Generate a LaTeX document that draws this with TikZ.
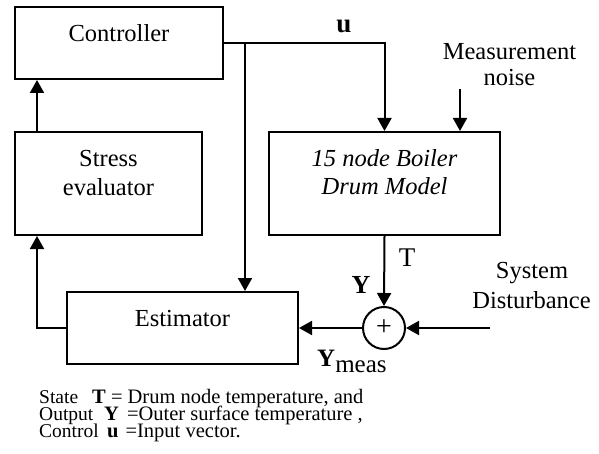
\documentclass[tikz,border=0pt]{standalone}
\usepackage{fontspec}
\setmainfont{Liberation Serif}
\usetikzlibrary{arrows.meta}
\begin{document}
\begin{tikzpicture}[x=1pt,y=-1pt,
  blk/.style={draw,line width=2pt,inner sep=0pt},
  arr/.style={line width=2pt,-{Triangle[length=13pt,width=14pt]}},
  lbl/.style={anchor=base,inner sep=0pt,font=\fontsize{24.5}{29}\selectfont},
  captxt/.style={anchor=base west,inner sep=0pt,font=\fontsize{20.5}{17}\selectfont},
  capkey/.style={anchor=base west,inner sep=0pt,font=\fontsize{19.5}{17}\selectfont}]
\useasboundingbox (0,0) rectangle (599,454);
% boxes
\node[blk,minimum width=208pt,minimum height=72pt] (ctrl) at (119,43) {};
\node[blk,minimum width=187pt,minimum height=103pt] (stress) at (108.5,183.5) {};
\node[blk,minimum width=231pt,minimum height=103pt] (boiler) at (384.5,183.5) {};
\node[blk,minimum width=231pt,minimum height=72pt] (est) at (182.5,328) {};
\node[draw,line width=2pt,circle,minimum size=42pt,inner sep=0pt] (sum) at (384,328) {};
\node[inner sep=0pt,font=\fontsize{28}{28}\selectfont\mdseries] (plus) at (384,327.5) {+};
% box texts
\node[lbl] (tctrl) at (119,41.7) {Controller};
\node[lbl] (tstr1) at (108.5,167) {Stress};
\node[lbl] (tstr2) at (108.5,196) {evaluator};
\node[lbl] (tboil1) at (384.5,166.7) {\itshape 15 node Boiler};
\node[lbl] (tboil2) at (384.5,195) {\itshape Drum Model};
\node[lbl] (test) at (182.5,326.7) {Estimator};
\node[lbl] (tmeas1) at (509.5,60) {Measurement};
\node[lbl] (tmeas2) at (509.5,86) {noise};
\node[lbl] (tsys1) at (532,278) {System};
\node[lbl] (tsys2) at (531.5,308) {Disturbance};
\node[lbl,font=\fontsize{27}{29}\selectfont] (tu) at (344,32.5) {\textbf{u}};
\node[lbl,font=\fontsize{27}{29}\selectfont] (tT) at (407,266) {T};
\node[lbl,font=\fontsize{26}{29}\selectfont] (tY) at (361,293) {\textbf{Y}};
\node[anchor=base west,inner sep=0pt,font=\fontsize{25}{29}\selectfont] (tYm) at (317,366) {\textbf{Y}\raisebox{-6.5pt}{meas}};
% coordinates
\coordinate (xl) at (37,0);
\coordinate (br) at (245,43);
\coordinate (noise) at (460,89);
\coordinate (dist) at (490,328);
% connectors
\draw[arr] (ctrl.east) -| (boiler.north);
\draw[arr] (br) -- (br |- est.north);
\draw[arr] (stress.north -| xl) -- (ctrl.south -| xl);
\draw[arr] (est.west) -| (stress.south -| xl);
\draw[arr] (boiler.south) -- (sum.north);
\draw[arr] (sum.west) -- (est.east);
\draw[arr] (dist) -- (sum.east);
\draw[arr] (noise) -- (noise |- boiler.north);
% caption
\node[capkey] (c1a) at (39,403) {State};
\node[captxt] (c1b) at (92,403) {\textbf{T} = Drum node temperature, and};
\node[capkey] (c2a) at (39,420) {Output};
\node[captxt] (c2b) at (104,420) {\textbf{Y}\hspace{8pt}=Outer surface temperature ,};
\node[capkey] (c3a) at (39,437.5) {Control};
\node[captxt] (c3b) at (107,437.5) {\textbf{u}\hspace{7pt}=Input vector.};
\end{tikzpicture}
\end{document}
